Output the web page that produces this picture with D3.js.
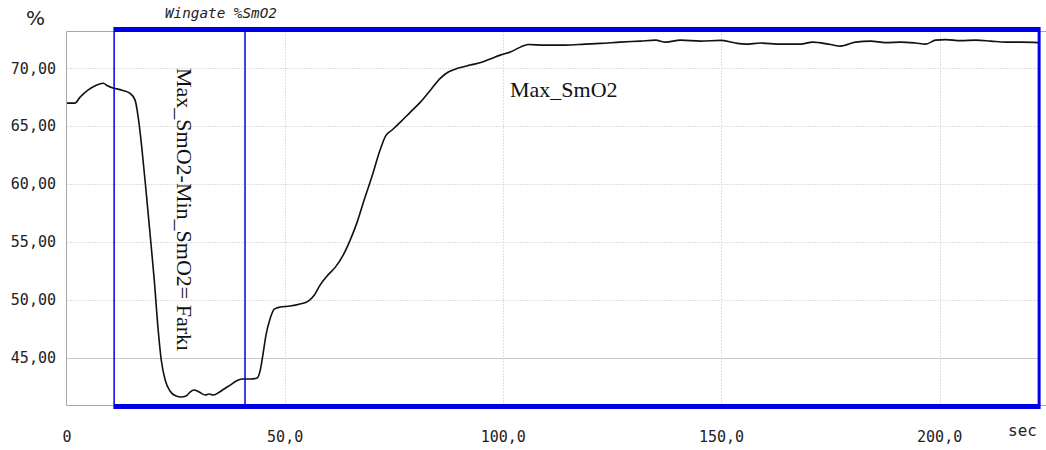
<!DOCTYPE html>
<html>
<head>
<meta charset="utf-8">
<script src="https://cdn.jsdelivr.net/npm/d3@7"></script>
<style>
  body { margin: 0; background: #fff; }
  svg { display: block; }
</style>
</head>
<body>
<svg id="chart" width="1046" height="450"></svg>
<script>
// SmO2 trace (seconds, %)
var timeSec = [0, 1.8, 3.0, 4.8, 6.7, 8.3, 9.4, 10.6, 12.6, 14.4, 15.6, 16.5, 17.2, 18.1, 19.0, 20.0, 20.9, 21.6, 22.5, 23.6,
  25.0, 26.1, 27.3, 28.2, 29.1, 30.3, 31.7, 32.6, 33.5, 34.6, 36.0, 37.4, 38.8, 40.1, 42.0, 43.6, 44.3, 45.0, 45.6, 46.6,
  47.5, 48.9, 51.1, 53.4, 55.3, 56.7, 58.0, 59.6, 61.5, 63.3, 64.9, 66.5, 68.1, 70.0, 71.6, 73.0, 74.5, 76.4, 78.7, 81.0,
  83.3, 85.6, 87.4, 89.7, 92.4, 95.2, 97.5, 99.3, 101.6, 103.9, 105.7, 109.6, 114.2, 118.8, 122.2, 126.8, 131.4, 134.9, 137.2, 140.6,
  145.2, 149.8, 153.2, 155.5, 159.0, 163.5, 168.1, 170.9, 175.0, 177.3, 180.7, 184.2, 187.6, 191.1, 194.5, 196.8, 199.1, 201.4, 204.8, 208.3,
  211.7, 215.1, 218.6, 222.7];
var smo2 = [66.98, 66.98, 67.5, 68.1, 68.53, 68.7, 68.45, 68.28, 68.1, 67.84, 67.24, 65.26, 62.93, 59.48, 55.86, 51.72, 47.41, 44.83, 43.1, 42.16,
  41.72, 41.64, 41.72, 42.07, 42.24, 42.07, 41.81, 41.9, 41.81, 41.98, 42.33, 42.67, 43.02, 43.19, 43.19, 43.28, 43.97, 45.52, 46.98, 48.45,
  49.22, 49.4, 49.48, 49.66, 49.91, 50.43, 51.29, 52.07, 52.84, 53.88, 55.17, 56.72, 58.62, 60.78, 62.76, 64.14, 64.66, 65.34, 66.21, 67.07,
  68.1, 69.14, 69.66, 70.0, 70.26, 70.52, 70.86, 71.12, 71.38, 71.81, 72.03, 71.98, 71.98, 72.07, 72.13, 72.24, 72.33, 72.41, 72.24, 72.41,
  72.33, 72.39, 72.16, 72.07, 72.16, 72.07, 72.07, 72.24, 72.03, 71.9, 72.24, 72.33, 72.2, 72.24, 72.16, 72.07, 72.41, 72.46, 72.37, 72.41,
  72.33, 72.24, 72.24, 72.2];

var yTicks = [45, 50, 55, 60, 65, 70];
var yTickLabels = ["45,00", "50,00", "55,00", "60,00", "65,00", "70,00"];
var xTicks = [0, 50, 100, 150, 200];
var xTickLabels = ["0", "50,0", "100,0", "150,0", "200,0"];

// marked interval (s)
var windowStart = 10.8;
var windowSplit = 40.8;
var windowEnd = 222.8;

var svg = d3.select("#chart");
var plotLeft = 67, plotRight = 1040, plotTop = 31, plotBottom = 405;

var x = d3.scaleLinear().domain([0, 223]).range([plotLeft, plotRight]);
var y = d3.scaleLinear().domain([40.95, 73.2]).range([plotBottom, plotTop]);

// grid
svg.selectAll(".hgrid").data(yTicks).enter().append("line")
  .attr("x1", plotLeft).attr("x2", plotRight)
  .attr("y1", function(d) { return Math.round(y(d)) + 0.5; })
  .attr("y2", function(d) { return Math.round(y(d)) + 0.5; })
  .attr("stroke", function(d) { return d === 45 ? "#c8c8c8" : "#e0e0e0"; })
  .attr("stroke-dasharray", function(d) { return d === 45 ? null : "2,1"; });

svg.selectAll(".vgrid").data(xTicks.slice(1)).enter().append("line")
  .attr("x1", function(d) { return Math.round(x(d)) + 0.5; })
  .attr("x2", function(d) { return Math.round(x(d)) + 0.5; })
  .attr("y1", plotTop).attr("y2", plotBottom)
  .attr("stroke", "#e0e0e0")
  .attr("stroke-dasharray", "2,1");

// frame
svg.append("path")
  .attr("d", "M" + (plotRight + 6) + "," + (plotTop + 0.5) + "H" + (plotLeft - 0.5) + "V" + (plotBottom + 0.5) + "H" + (plotRight + 6))
  .attr("fill", "none").attr("stroke", "#a8a8a8");

// axes labels
var mono = "'DejaVu Sans Mono', monospace";
svg.selectAll(".ylab").data(yTicks).enter().append("text")
  .attr("x", 56).attr("y", function(d) { return y(d); })
  .attr("dy", "0.36em")
  .attr("text-anchor", "end")
  .attr("font-family", mono).attr("font-size", 15).attr("fill", "#222")
  .text(function(d, i) { return yTickLabels[i]; });

svg.selectAll(".xlab").data(xTicks).enter().append("text")
  .attr("x", function(d) { return x(d); }).attr("y", 442)
  .attr("text-anchor", "middle")
  .attr("font-family", mono).attr("font-size", 15).attr("fill", "#222")
  .text(function(d, i) { return xTickLabels[i]; });

svg.append("text").attr("x", 1008).attr("y", 436)
  .attr("font-family", mono).attr("font-size", 16).attr("fill", "#222").text("sec");

svg.append("text").attr("x", 26).attr("y", 25)
  .attr("font-family", "'DejaVu Sans', sans-serif").attr("font-size", 20).attr("fill", "#222").text("%");

svg.append("text").attr("x", 165).attr("y", 18)
  .attr("font-family", mono).attr("font-style", "italic").attr("font-size", 14.3).attr("fill", "#222")
  .text("Wingate %SmO2");

// trace
var line = d3.line()
  .x(function(d, i) { return x(timeSec[i]); })
  .y(function(d) { return y(d); })
  .curve(d3.curveMonotoneX);

svg.append("path").datum(smo2)
  .attr("d", line)
  .attr("fill", "none")
  .attr("stroke", "#111")
  .attr("stroke-width", 1.6);

// blue marker box
var blue = "#0000e6";
svg.append("rect")
  .attr("x", x(windowStart)).attr("y", 27)
  .attr("width", x(windowEnd) - x(windowStart)).attr("height", 5)
  .attr("fill", blue);
svg.append("rect")
  .attr("x", x(windowStart)).attr("y", 404)
  .attr("width", x(windowEnd) - x(windowStart)).attr("height", 5)
  .attr("fill", blue);
svg.append("line")
  .attr("x1", x(windowStart)).attr("x2", x(windowStart))
  .attr("y1", 27).attr("y2", 409)
  .attr("stroke", blue).attr("stroke-width", 1.5);
svg.append("line")
  .attr("x1", x(windowSplit)).attr("x2", x(windowSplit))
  .attr("y1", 27).attr("y2", 409)
  .attr("stroke", blue).attr("stroke-width", 1.5);
svg.append("line")
  .attr("x1", x(windowEnd)).attr("x2", x(windowEnd))
  .attr("y1", 27).attr("y2", 409)
  .attr("stroke", blue).attr("stroke-width", 3);

// annotations
var serif = "'Liberation Serif', 'Times New Roman', serif";
svg.append("text")
  .attr("transform", "translate(177,68) rotate(90)")
  .attr("font-family", serif).attr("font-size", 22).attr("fill", "#111")
  .text("Max_SmO2-Min_SmO2= Farkı");

svg.append("text").attr("x", 510).attr("y", 97)
  .attr("font-family", serif).attr("font-size", 22).attr("fill", "#111")
  .text("Max_SmO2");
</script>
</body>
</html>
